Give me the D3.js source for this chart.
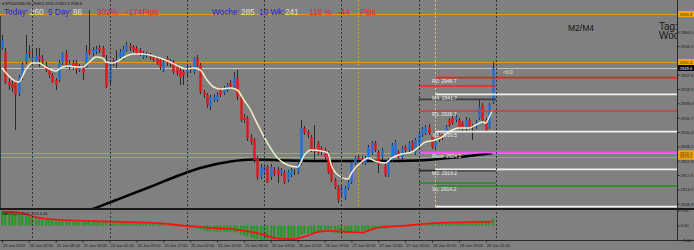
<!DOCTYPE html>
<html><head><meta charset="utf-8">
<script src="https://cdn.jsdelivr.net/npm/d3@7"></script>
<style>
html,body{margin:0;padding:0;background:#808080;overflow:hidden}
svg{display:block}
text{font-family:"Liberation Sans",Arial,sans-serif}
</style></head><body>
<svg id="c" width="694" height="250"></svg>
<script>
// ---------------- DATA ----------------
const openP=[2955.6,2954.4,2945.4,2944.8,2945.4,2942.1,2946.9,2951.4,2954.4,2952.0,
2951.4,2953.2,2952.3,2950.5,2949.0,2947.5,2946.0,2946.0,2951.1,2954.1,
2949.9,2951.1,2951.1,2949.0,2949.6,2949.9,2955.0,2954.1,2954.4,2955.6,
2955.6,2951.1,2945.4,2951.7,2951.1,2952.9,2952.9,2955.0,2956.2,2955.9,
2955.6,2955.0,2952.9,2953.2,2953.5,2952.9,2952.6,2952.0,2949.0,2952.6,
2950.8,2951.4,2949.9,2949.0,2948.4,2948.1,2949.3,2948.4,2952.6,2950.5,
2942.4,2941.5,2937.9,2940.0,2940.0,2943.0,2942.1,2943.0,2945.1,2943.9,
2946.6,2940.9,2934.9,2934.6,2928.9,2928.0,2922.6,2916.9,2918.4,2919.9,
2916.9,2919.0,2919.0,2918.1,2918.4,2916.0,2917.5,2918.7,2918.4,2921.1,
2931.6,2930.4,2928.9,2925.6,2927.1,2925.6,2925.0,2924.1,2921.1,2916.0,
2913.9,2912.1,2910.6,2913.6,2915.4,2921.1,2922.9,2922.6,2921.1,2922.9,
2924.1,2927.1,2924.4,2922.9,2920.5,2917.5,2922.0,2923.5,2924.4,2922.9,
2925.9,2925.0,2927.4,2924.1,2925.9,2929.5,2930.1,2931.9,2929.5,2925.9,
2929.5,2929.5,2929.5,2934.0,2934.6,2934.0,2934.0,2933.1,2931.6,2934.0,
2932.2,2931.9,2934.6,2938.5,2934.0,2931.9,2939.4];
const closeP=[2958.0,2945.4,2944.2,2943.6,2941.5,2946.9,2950.5,2954.1,2953.8,2952.9,
2953.5,2952.3,2951.4,2949.0,2947.5,2945.4,2944.5,2951.1,2954.1,2950.5,
2951.1,2949.9,2949.0,2949.9,2948.1,2954.4,2954.1,2955.0,2955.3,2955.0,
2952.9,2943.9,2951.1,2951.1,2952.0,2954.4,2955.3,2956.5,2955.6,2955.0,
2954.1,2954.1,2954.1,2953.5,2952.6,2952.0,2951.1,2949.9,2951.4,2951.1,
2951.7,2948.4,2948.1,2946.6,2947.5,2949.9,2949.0,2952.6,2950.5,2942.4,
2941.5,2938.5,2940.9,2940.9,2941.5,2941.5,2943.6,2944.5,2943.9,2946.9,
2940.9,2934.0,2934.0,2928.6,2927.4,2922.0,2916.9,2919.9,2919.9,2915.4,
2919.9,2918.1,2917.5,2919.0,2915.4,2918.4,2919.0,2918.4,2921.1,2931.6,
2930.1,2929.5,2925.0,2925.0,2924.1,2924.4,2922.9,2918.4,2916.0,2913.9,
2910.0,2913.6,2913.6,2915.4,2921.1,2922.6,2922.0,2921.4,2922.6,2925.9,
2927.1,2925.0,2920.5,2925.0,2917.5,2922.0,2926.5,2927.4,2922.9,2925.6,
2925.0,2927.1,2925.0,2928.0,2930.1,2931.3,2931.9,2930.1,2925.9,2927.4,
2928.0,2928.9,2931.9,2932.5,2933.1,2934.9,2931.9,2931.6,2934.0,2931.9,
2931.9,2933.4,2937.9,2934.0,2931.0,2938.5,2949.6];
const highP=[2959.5,2955.6,2946.6,2946.0,2946.0,2947.5,2951.4,2959.5,2956.5,2955.0,
2955.6,2955.6,2953.5,2951.4,2949.9,2948.1,2946.6,2952.0,2954.4,2955.0,
2952.0,2952.0,2952.0,2950.8,2950.5,2956.5,2967.0,2955.9,2956.2,2956.5,
2956.2,2953.5,2952.0,2952.6,2955.0,2955.3,2956.2,2957.4,2957.1,2956.5,
2956.2,2955.6,2954.7,2954.4,2954.1,2953.5,2953.2,2952.6,2952.0,2953.2,
2952.3,2952.0,2950.5,2949.6,2949.0,2950.8,2950.2,2952.9,2953.5,2951.1,
2943.0,2942.1,2941.5,2941.8,2942.4,2943.6,2944.2,2945.1,2946.0,2948.4,
2949.0,2941.5,2935.8,2935.2,2929.8,2928.6,2923.2,2920.8,2920.8,2920.5,
2920.8,2919.9,2919.9,2919.6,2919.0,2919.0,2919.6,2919.3,2921.7,2934.0,
2932.2,2931.0,2929.5,2932.5,2927.7,2926.2,2925.6,2924.7,2921.7,2916.6,
2914.5,2914.2,2914.2,2916.0,2921.7,2923.2,2923.5,2923.2,2923.2,2926.5,
2927.7,2927.7,2925.0,2925.6,2921.1,2922.6,2927.1,2928.0,2925.0,2926.2,
2926.5,2927.7,2928.0,2928.6,2930.7,2931.9,2932.5,2932.8,2930.1,2928.0,
2930.1,2930.1,2932.5,2934.6,2935.2,2935.5,2934.6,2933.7,2934.9,2934.6,
2932.8,2934.0,2940.0,2939.1,2934.6,2939.1,2951.4];
const lowP=[2955.0,2944.8,2943.0,2942.4,2931.0,2941.2,2946.0,2950.8,2952.6,2950.5,
2950.8,2949.9,2950.2,2948.4,2946.6,2945.1,2943.0,2945.4,2950.5,2949.6,
2949.0,2949.0,2947.8,2948.4,2946.0,2949.6,2953.5,2953.2,2953.8,2954.1,
2952.3,2943.6,2944.5,2950.2,2949.6,2952.0,2952.0,2954.4,2954.7,2954.4,
2953.5,2953.2,2952.3,2952.6,2952.0,2951.4,2950.5,2949.0,2948.4,2950.2,
2949.9,2947.8,2947.2,2944.5,2944.5,2947.2,2948.1,2947.8,2949.9,2941.8,
2940.6,2937.6,2937.0,2939.4,2939.4,2940.9,2941.5,2942.4,2943.3,2943.3,
2940.0,2933.4,2933.1,2927.7,2926.5,2921.1,2916.0,2916.3,2917.5,2915.1,
2916.0,2917.2,2915.1,2917.2,2914.8,2915.4,2916.9,2917.5,2917.8,2920.5,
2929.5,2928.6,2924.4,2922.0,2923.5,2923.5,2922.0,2917.8,2915.4,2913.3,
2909.1,2911.2,2910.0,2913.0,2914.8,2920.5,2921.4,2920.8,2920.5,2922.3,
2923.5,2924.4,2918.1,2922.0,2916.9,2916.9,2921.4,2922.9,2922.3,2922.0,
2924.1,2924.4,2924.4,2923.5,2925.3,2928.9,2929.5,2929.5,2925.3,2925.0,
2927.4,2928.0,2928.9,2931.9,2932.5,2933.4,2931.3,2930.7,2930.7,2931.3,
2928.0,2931.3,2934.0,2933.4,2930.4,2931.3,2938.8];

// short EMA (cream) read at these bars
const emaIdx=[0,5,7,9,11,13,16,18,20,22,24,26,28,30,31,33,35,37,39,42,45,47,50,53,55,57,59,61,63,65,68,70,72,74,75,79,82,85,88,90,92,95,97,98,100,103,104,107,109,111,114,116,119,122,124,126,129,131,133,136,139,141,143,144,145,146];
const emaVal=[2949.6,2945.4,2949.0,2951.1,2951.1,2949.9,2948.7,2949.9,2950.2,2949.9,2949.9,2951.4,2952.9,2952.6,2951.4,2951.1,2952.0,2953.2,2953.8,2953.8,2953.2,2952.6,2951.4,2949.9,2949.3,2949.6,2949.0,2946.0,2943.9,2943.3,2943.6,2943.0,2940.0,2937.0,2934.9,2927.1,2922.6,2920.5,2919.9,2923.5,2925.0,2924.7,2924.1,2920.5,2917.5,2916.3,2918.1,2921.4,2922.6,2921.7,2921.1,2922.6,2923.8,2924.4,2925.9,2927.4,2928.0,2928.9,2930.4,2931.6,2931.6,2932.5,2933.4,2933.1,2934.9,2937.0];
// long MA (black)
const maIdx=[17,27,34,44,53,59,68,75,85,100,112,124,133,139,146];
const maVal=[2903.7,2907.3,2910.0,2913.9,2917.5,2919.6,2921.55,2922.15,2921.85,2921.7,2921.7,2921.85,2922.6,2923.2,2924.1];

// MACD histogram and signal
const macdHist=[9.3,9.3,9.1,8.8,8.4,7.9,7.2,6.5,5.9,5.3,
4.8,4.4,4.0,3.8,3.6,3.4,3.2,3.0,2.9,2.8,
2.7,2.6,2.5,2.5,2.4,2.5,2.6,2.6,2.5,2.4,2.2,2.0,1.9,
1.8,1.8,1.9,2.0,2.0,1.9,1.9,1.8,1.8,1.7,1.6,1.5,1.3,1.2,1.0,
0.9,0.8,0.7,0.5,0.3,0.0,-0.4,-0.9,
-1.5,-1.8,-1.9,
-2.6,-3.2,-3.6,-3.9,-4.0,-4.1,-4.1,-4.0,-4.0,-4.1,-4.2,-4.8,-5.8,
-6.6,-7.3,-8.0,-8.6,-9.0,-9.3,-9.4,-9.4,
-9.4,-9.3,-9.2,-9.0,-8.8,-8.6,-8.3,
-7.9,-7.2,-6.0,
-5.4,-5.1,-5.0,-4.9,-4.7,-4.4,
-4.2,-4.2,-4.4,-4.8,-5.1,
-5.3,-5.3,-5.2,-4.9,-4.4,-3.9,-3.4,
-3.0,-2.8,-2.5,
-2.2,-2.0,-1.9,-1.9,-1.6,-1.2,
-0.8,-0.5,-0.2,0.1,0.3,0.5,0.7,
1.0,1.3,1.5,1.6,1.5,1.6,1.8,1.9,2.0,2.1,2.2,2.2,2.1,2.1,2.2,2.3,2.3,2.4,2.6,2.5,2.4,2.8,4.7];
const sigIdx=[0,5,10,15,25,35,45,54,62,69,77,82,86,91,94,98,103,107,110,113,120,124,130,138,146];
const sigVal=[9.3,8.5,5.5,4.0,3.0,2.4,1.8,0.0,-1.5,-2.5,-5.4,-8.5,-8.9,-6.6,-4.2,-3.5,-4.2,-4.6,-2.5,-1.1,-0.1,0.8,1.8,2.2,2.5];
const macdAxis=[9.83,0.00,-9.44];

// time axis
const tickIdx=[0,8,16,24,32,40,48,56,64,72,80,88,96,104,112,120,128,136,144];
const tickLabels=["20 Jun 2019","20 Jun 23:00","21 Jun 08:00","21 Jun 16:00","24 Jun 01:00","24 Jun 09:00","24 Jun 17:00","25 Jun 02:00","25 Jun 10:00","25 Jun 18:00","26 Jun 03:00","26 Jun 11:00","26 Jun 19:00","27 Jun 04:00","27 Jun 12:00","27 Jun 20:00","28 Jun 05:00","28 Jun 13:00","28 Jun 21:00"];
const daySepIdx=[9,32,55,78,101,124,147];
// price axis
const priceTicks=[2960.5,2956.2,2951.9,2947.6,2943.3,2939.0,2934.7,2930.4,2926.1,2921.8,2917.5,2913.2,2908.9];
// horizontal objects
const orangeLevels=[2965.8,2951.4,2924.0,2923.0];
const bidPrice=2949.6;
const pivotNames=["R2","M4","R1","M3","Pivot","M2","S1","M1"];
const pivotVals=[2946.7,2941.7,2936.7,2930.5,2924.2,2919.2,2914.2,2908.0];
const pivotStart=[129,129,124,129,124,129,129,129];
const prevVals=[2944.2,2940.2,2918.8,2915.1];
// header statistics
const statTexts=["Today:","260","5 Day:","86","302%","-174Pips","Woche:","285","10 Wk:","241","118 %","-44","Pips"];
const statKinds=["l","v","l","v","r","r","l","v","l","v","r","r","r"];

// ---------------- LAYOUT ----------------
const svg=d3.select("#c");
const W=694, AX=677, MAIN_B=208, IND_T=210.5, IND_B=240;
const FONT="Liberation Sans, Arial, sans-serif";
const xs=d3.scaleLinear().domain([0,147]).range([2,495.9]);
const ys=d3.scaleLinear().domain([2970-208*0.3,2970]).range([MAIN_B,0]);
const yi=d3.scaleLinear().domain([-9.44,9.83]).range([IND_B,IND_T]);

svg.append("rect").attr("width",W).attr("height",250).attr("fill","#808080");
const defs=svg.append("defs");
defs.append("clipPath").attr("id","cm").append("rect").attr("x",0).attr("y",0).attr("width",AX).attr("height",MAIN_B);
defs.append("clipPath").attr("id","ci").append("rect").attr("x",0).attr("y",IND_T).attr("width",AX).attr("height",IND_B-IND_T);

const gm=svg.append("g").attr("clip-path","url(#cm)");
const gi=svg.append("g").attr("clip-path","url(#ci)");

// left border
svg.append("line").attr("x1",0.5).attr("x2",0.5).attr("y1",16).attr("y2",MAIN_B).attr("stroke","#3a3a3a");
// day separators (full height)
svg.append("g").selectAll("line").data(daySepIdx).join("line")
 .attr("x1",d=>Math.round(xs(d))+0.5).attr("x2",d=>Math.round(xs(d))+0.5)
 .attr("y1",0).attr("y2",IND_B).attr("stroke","#333").attr("stroke-dasharray","2,2");
// vertical objects
gm.append("line").attr("x1",Math.round(xs(106))+0.5).attr("x2",Math.round(xs(106))+0.5).attr("y1",0).attr("y2",MAIN_B)
 .attr("stroke","#e39a22").attr("stroke-dasharray","2,2");
gm.append("line").attr("x1",Math.round(xs(129))+0.5).attr("x2",Math.round(xs(129))+0.5).attr("y1",0).attr("y2",MAIN_B)
 .attr("stroke","#d9bd8e").attr("stroke-dasharray","2,2");

// orange horizontal lines + bid line
gm.selectAll("line.or").data(orangeLevels).join("line").attr("class","or")
 .attr("x1",0).attr("x2",AX).attr("y1",d=>Math.round(ys(d))+0.5).attr("y2",d=>Math.round(ys(d))+0.5)
 .attr("stroke","#e3961f").attr("stroke-width",1);
gm.append("line").attr("x1",0).attr("x2",AX).attr("y1",Math.round(ys(bidPrice))+0.5).attr("y2",Math.round(ys(bidPrice))+0.5)
 .attr("stroke","#c4c4c4");

// long MA
gm.append("path").datum(maIdx.map((d,k)=>[d,maVal[k]]))
 .attr("d",d3.line().x(d=>xs(d[0])).y(d=>ys(d[1])).curve(d3.curveMonotoneX))
 .attr("fill","none").attr("stroke","#000").attr("stroke-width",2.6);

// candles
const idx=d3.range(openP.length);
gm.append("g").selectAll("line").data(idx).join("line")
 .attr("x1",i=>Math.round(xs(i))+0.5).attr("x2",i=>Math.round(xs(i))+0.5)
 .attr("y1",i=>ys(highP[i])).attr("y2",i=>ys(lowP[i])).attr("stroke","#2a2a2a").attr("stroke-width",1);
gm.append("g").selectAll("rect").data(idx).join("rect")
 .attr("x",i=>Math.round(xs(i))-0.7).attr("width",2.4)
 .attr("y",i=>ys(Math.max(openP[i],closeP[i])))
 .attr("height",i=>Math.max(1,Math.abs(ys(openP[i])-ys(closeP[i]))))
 .attr("fill",i=>closeP[i]>=openP[i]?"#1f6fd6":"#e3151b");

// short EMA
gm.append("path").datum(emaIdx.map((d,k)=>[d,emaVal[k]]))
 .attr("d",d3.line().x(d=>xs(d[0])).y(d=>ys(d[1])).curve(d3.curveMonotoneX))
 .attr("fill","none").attr("stroke","#f2edc6").attr("stroke-width",1.5);

// previous-day short levels
const prevColors=["#ff2020","#3c3c3c","#2a2a2a","#1d8f1d"];
gm.selectAll("line.pv").data(prevVals).join("line").attr("class","pv")
 .attr("x1",xs(124)).attr("x2",xs(147)).attr("y1",d=>ys(d)).attr("y2",d=>ys(d))
 .attr("stroke",(d,k)=>prevColors[k]).attr("stroke-width",1.6);
// current pivot levels
const pivColors=["#ff1a1a","#f0f0f0","#d63a3a","#f0f0f0","#ff4dff","#f0f0f0","#199119","#f0f0f0"];
gm.selectAll("line.pl").data(pivotVals).join("line").attr("class","pl")
 .attr("x1",(d,k)=>xs(pivotStart[k])).attr("x2",AX).attr("y1",d=>ys(d)).attr("y2",d=>ys(d))
 .attr("stroke",(d,k)=>pivColors[k]).attr("stroke-width",1.7);
gm.selectAll("text.pt").data(pivotVals.slice(0,7)).join("text").attr("class","pt")
 .attr("x",xs(128)).attr("y",d=>ys(d)+5.2).attr("font-size",5).attr("fill","#ececec")
 .text((d,k)=>pivotNames[k]+": "+d.toFixed(1));
gm.append("text").attr("x",503).attr("y",ys(bidPrice)+5.5).attr("font-size",5).attr("fill","#efe9c6").text("<0:0");

// header texts
gm.append("text").attr("x",2).attr("y",5).attr("font-size",3.8).attr("fill","#111")
 .text("\u25BE SP500/USD,H1  2908.0 2950.3 2907.4 2946.8");
const statX=[4,30,48,73,97,126,212,241,259,285,309,338,360];
const kindCol={l:"#2222d8",v:"#ebe1a2",r:"#ee2222"};
gm.selectAll("text.st").data(statTexts).join("text").attr("class","st")
 .attr("x",(d,k)=>statX[k]).attr("y",15.3).attr("font-size",8.2)
 .attr("fill",(d,k)=>kindCol[statKinds[k]]).text(d=>d);
gm.append("text").attr("x",568).attr("y",31).attr("font-size",8.5).attr("fill","#141414").text("M2/M4");
gm.append("text").attr("x",659).attr("y",30).attr("font-size",10).attr("fill","#141414").text("Tag:");
gm.append("text").attr("x",659).attr("y",39).attr("font-size",10).attr("fill","#141414").text("Woche:");

// separator between panes
svg.append("rect").attr("x",0).attr("y",MAIN_B).attr("width",W).attr("height",2).attr("fill","#1a1a1a");

// indicator
gi.append("g").selectAll("rect").data(idx).join("rect")
 .attr("x",i=>Math.round(xs(i))-0.7).attr("width",2)
 .attr("y",i=>Math.min(yi(0),yi(macdHist[i])))
 .attr("height",i=>Math.max(0.6,Math.abs(yi(macdHist[i])-yi(0))))
 .attr("fill","#1e9a1e");
gi.append("path").datum(sigIdx.map((d,k)=>[d,sigVal[k]]))
 .attr("d",d3.line().x(d=>xs(d[0])).y(d=>yi(d[1])).curve(d3.curveMonotoneX))
 .attr("fill","none").attr("stroke","#ff1010").attr("stroke-width",1.8);
svg.append("text").attr("x",2).attr("y",214.5).attr("font-size",4).attr("fill","#151515").text("MACD(12,26,9) 2.53 3.44");

// time axis
svg.append("line").attr("x1",0).attr("x2",W).attr("y1",IND_B+0.5).attr("y2",IND_B+0.5).attr("stroke","#2a2a2a");
const xAxis=d3.axisBottom(xs).tickValues(tickIdx).tickFormat((d,k)=>tickLabels[k]).tickSize(2).tickPadding(1.5);
const gx=svg.append("g").attr("transform",`translate(0,${IND_B+0.5})`).call(xAxis);
gx.select(".domain").remove();
gx.selectAll("line").attr("stroke","#222");
gx.selectAll("text").attr("text-anchor","start").attr("dx","0.5").attr("font-size",4).attr("fill","#1a1a1a").attr("font-family",FONT);

// price axis
svg.append("line").attr("x1",AX+0.5).attr("x2",AX+0.5).attr("y1",0).attr("y2",IND_B).attr("stroke","#2a2a2a");
const yAxis=d3.axisRight(ys).tickValues(priceTicks).tickFormat(d3.format(".1f")).tickSize(2).tickPadding(1);
const gy=svg.append("g").attr("transform",`translate(${AX+0.5},0)`).call(yAxis);
gy.select(".domain").remove();
gy.selectAll("line").attr("stroke","#222");
gy.selectAll("text").attr("font-size",4.2).attr("fill","#1a1a1a").attr("font-family",FONT);
const yiAxis=d3.axisRight(yi).tickValues(macdAxis).tickFormat(d3.format(".2f")).tickSize(2).tickPadding(1);
const gyi=svg.append("g").attr("transform",`translate(${AX+0.5},0)`).call(yiAxis);
gyi.select(".domain").remove();
gyi.selectAll("line").attr("stroke","#222");
gyi.selectAll("text").attr("font-size",4.2).attr("fill","#1a1a1a").attr("font-family",FONT);

// price boxes
const boxes=orangeLevels.map(v=>({v,bg:"#f5a40f",fg:"#3a2a00"})).concat([{v:bidPrice,bg:"#000",fg:"#fff"}]);
const gb=svg.append("g");
gb.selectAll("rect").data(boxes).join("rect").attr("x",AX+1).attr("width",W-AX-1)
 .attr("y",d=>ys(d.v)-3).attr("height",6).attr("fill",d=>d.bg);
gb.selectAll("text").data(boxes).join("text").attr("x",AX+2.5).attr("y",d=>ys(d.v)+1.6)
 .attr("font-size",4.2).attr("fill",d=>d.fg).text(d=>d.v.toFixed(1));
</script></body></html>
